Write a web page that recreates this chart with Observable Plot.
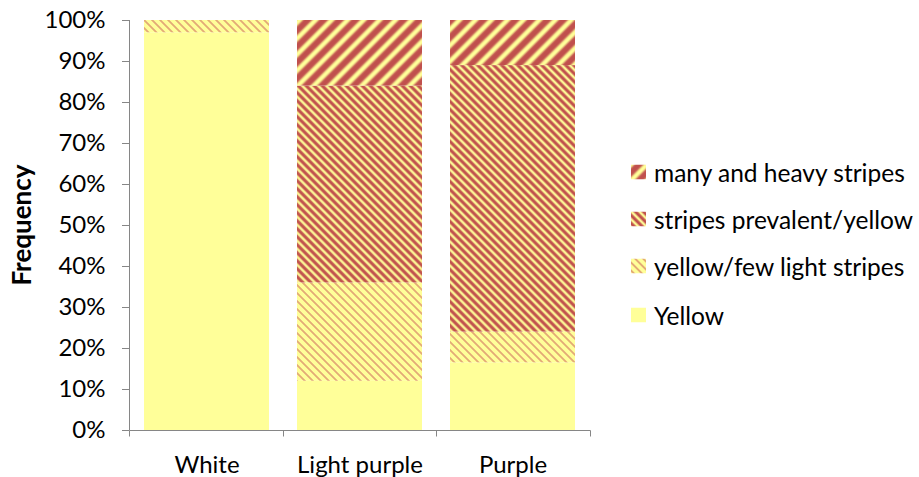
<!DOCTYPE html>
<html>
<head>
<meta charset="utf-8">
<script src="https://cdn.jsdelivr.net/npm/d3@7"></script>
<script src="https://cdn.jsdelivr.net/npm/@observablehq/plot@0.6"></script>
<style>
  html, body { margin: 0; padding: 0; background: #fff; }
  #wrap { position: relative; width: 919px; height: 477px; font-family: Lato, sans-serif; }
  #legend { position: absolute; left: 631px; top: 0; }
  .item { position: absolute; left: 0; display: flex; align-items: center; white-space: nowrap; font-size: 24.5px; color: #000; transform: translateY(-50%); }
  .item svg { margin-right: 8px; }
</style>
</head>
<body>
<!-- stripe fills shared by the bars and the legend swatches -->
<svg width="0" height="0" style="position:absolute">
  <defs>
    <linearGradient id="g-heavy" x1="0" x2="1" y1="0" y2="0">
      <stop offset="0" stop-color="#FFFF99"/>
      <stop offset="0.1" stop-color="#FFFF99"/>
      <stop offset="0.32" stop-color="#C0504D"/>
      <stop offset="0.68" stop-color="#C0504D"/>
      <stop offset="0.9" stop-color="#FFFF99"/>
      <stop offset="1" stop-color="#FFFF99"/>
    </linearGradient>
    <linearGradient id="g-prev" x1="0" x2="1" y1="0" y2="0">
      <stop offset="0" stop-color="#FFFF99"/>
      <stop offset="0.12" stop-color="#FFFF99"/>
      <stop offset="0.4" stop-color="#C0504D"/>
      <stop offset="0.7" stop-color="#C0504D"/>
      <stop offset="0.95" stop-color="#FFFF99"/>
      <stop offset="1" stop-color="#FFFF99"/>
    </linearGradient>
    <linearGradient id="g-few" x1="0" x2="1" y1="0" y2="0">
      <stop offset="0" stop-color="#FFFF99"/>
      <stop offset="0.3" stop-color="#FFFF99"/>
      <stop offset="0.5" stop-color="#CF6E5E"/>
      <stop offset="0.7" stop-color="#FFFF99"/>
      <stop offset="1" stop-color="#FFFF99"/>
    </linearGradient>
    <pattern id="p-heavy" patternUnits="userSpaceOnUse" width="11.3" height="11.3" patternTransform="rotate(45)">
      <rect width="11.3" height="11.3" fill="url(#g-heavy)"/>
    </pattern>
    <pattern id="p-prev" patternUnits="userSpaceOnUse" width="5.66" height="5.66" patternTransform="rotate(-45)">
      <rect width="5.66" height="5.66" fill="url(#g-prev)"/>
    </pattern>
    <pattern id="p-few" patternUnits="userSpaceOnUse" width="5.66" height="5.66" patternTransform="rotate(-45)">
      <rect width="5.66" height="5.66" fill="url(#g-few)"/>
    </pattern>
  </defs>
</svg>

<div id="wrap">
  <div id="chart"></div>
  <div id="legend"></div>
</div>

<script>
// Flower colour groups on the x axis
const categories = ["White", "Light purple", "Purple"];

// Stripe classes, from the bottom of each stack to the top
const types = ["Yellow", "yellow/few light stripes", "stripes prevalent/yellow", "many and heavy stripes"];

// Percent of each group falling in each class
const yellow     = [97, 12, 16.5];
const fewLight   = [3, 24, 7.5];
const prevalent  = [0, 48, 65];
const heavy      = [0, 16, 11];

// Y axis tick values (percent)
const yTicks = [0, 10, 20, 30, 40, 50, 60, 70, 80, 90, 100];

const fills = ["#FFFF99", "url(#p-few)", "url(#p-prev)", "url(#p-heavy)"];
const seriesValues = [yellow, fewLight, prevalent, heavy];

// Long-format table for the stacked bars
const rows = [];
categories.forEach((c, i) => {
  types.forEach((t, j) => rows.push({category: c, type: t, value: seriesValues[j][i]}));
});

// Axis lines plus the category-boundary ticks along the bottom
function axisLines(index, scales, values, dim) {
  const x0 = Math.round(dim.marginLeft) + 0.5;
  const x1 = Math.round(dim.width - dim.marginRight) + 0.5;
  const yt = dim.marginTop;
  const yb = Math.round(dim.height - dim.marginBottom) + 0.5;
  const g = d3.create("svg:g").attr("stroke", "#868686").attr("fill", "none");
  g.append("line").attr("x1", x0).attr("x2", x0).attr("y1", yt).attr("y2", yb);
  g.append("line").attr("x1", x0).attr("x2", x1).attr("y1", yb).attr("y2", yb);
  const n = categories.length;
  for (let i = 0; i <= n; ++i) {
    const x = Math.round(dim.marginLeft + i * (dim.width - dim.marginLeft - dim.marginRight) / n) + 0.5;
    g.append("line").attr("x1", x).attr("x2", x).attr("y1", yb).attr("y2", yb + 6);
  }
  return g.node();
}

const chart = Plot.plot({
  width: 919,
  height: 477,
  marginLeft: 129,
  marginRight: 329,
  marginTop: 20,
  marginBottom: 47,
  style: {fontFamily: "Lato, sans-serif", fontSize: "24px", color: "#000", background: "transparent"},
  x: {domain: categories, paddingInner: 0.18, paddingOuter: 0.09, label: null},
  y: {domain: [0, 100], label: null},
  color: {domain: types, range: fills},
  marks: [
    Plot.barY(rows, {x: "category", y: "value", fill: "type"}),
    Plot.axisY({ticks: yTicks, tickFormat: d => d + "%", tickSize: 7, tickPadding: 17, stroke: "#868686", fill: "#000", label: null}),
    Plot.axisX({tickSize: 0, tickPadding: 25, fill: "#000", label: null}),
    axisLines
  ]
});

// Rotated y-axis title
d3.select(chart).append("text")
  .attr("transform", "translate(31,225) rotate(-90)")
  .attr("text-anchor", "middle")
  .attr("font-weight", "bold")
  .attr("font-size", 26)
  .attr("fill", "#000")
  .text("Frequency");

document.getElementById("chart").appendChild(chart);

// Legend, listed top class first
const legend = document.getElementById("legend");
const legendRows = [172, 219, 266, 315];
types.slice().reverse().forEach((t, i) => {
  const fill = fills[types.indexOf(t)];
  const item = document.createElement("div");
  item.className = "item";
  item.style.top = legendRows[i] + "px";
  item.innerHTML = `<svg width="15" height="15"><rect width="15" height="15" fill="${fill}"/></svg><span>${t}</span>`;
  legend.appendChild(item);
});
</script>
</body>
</html>
